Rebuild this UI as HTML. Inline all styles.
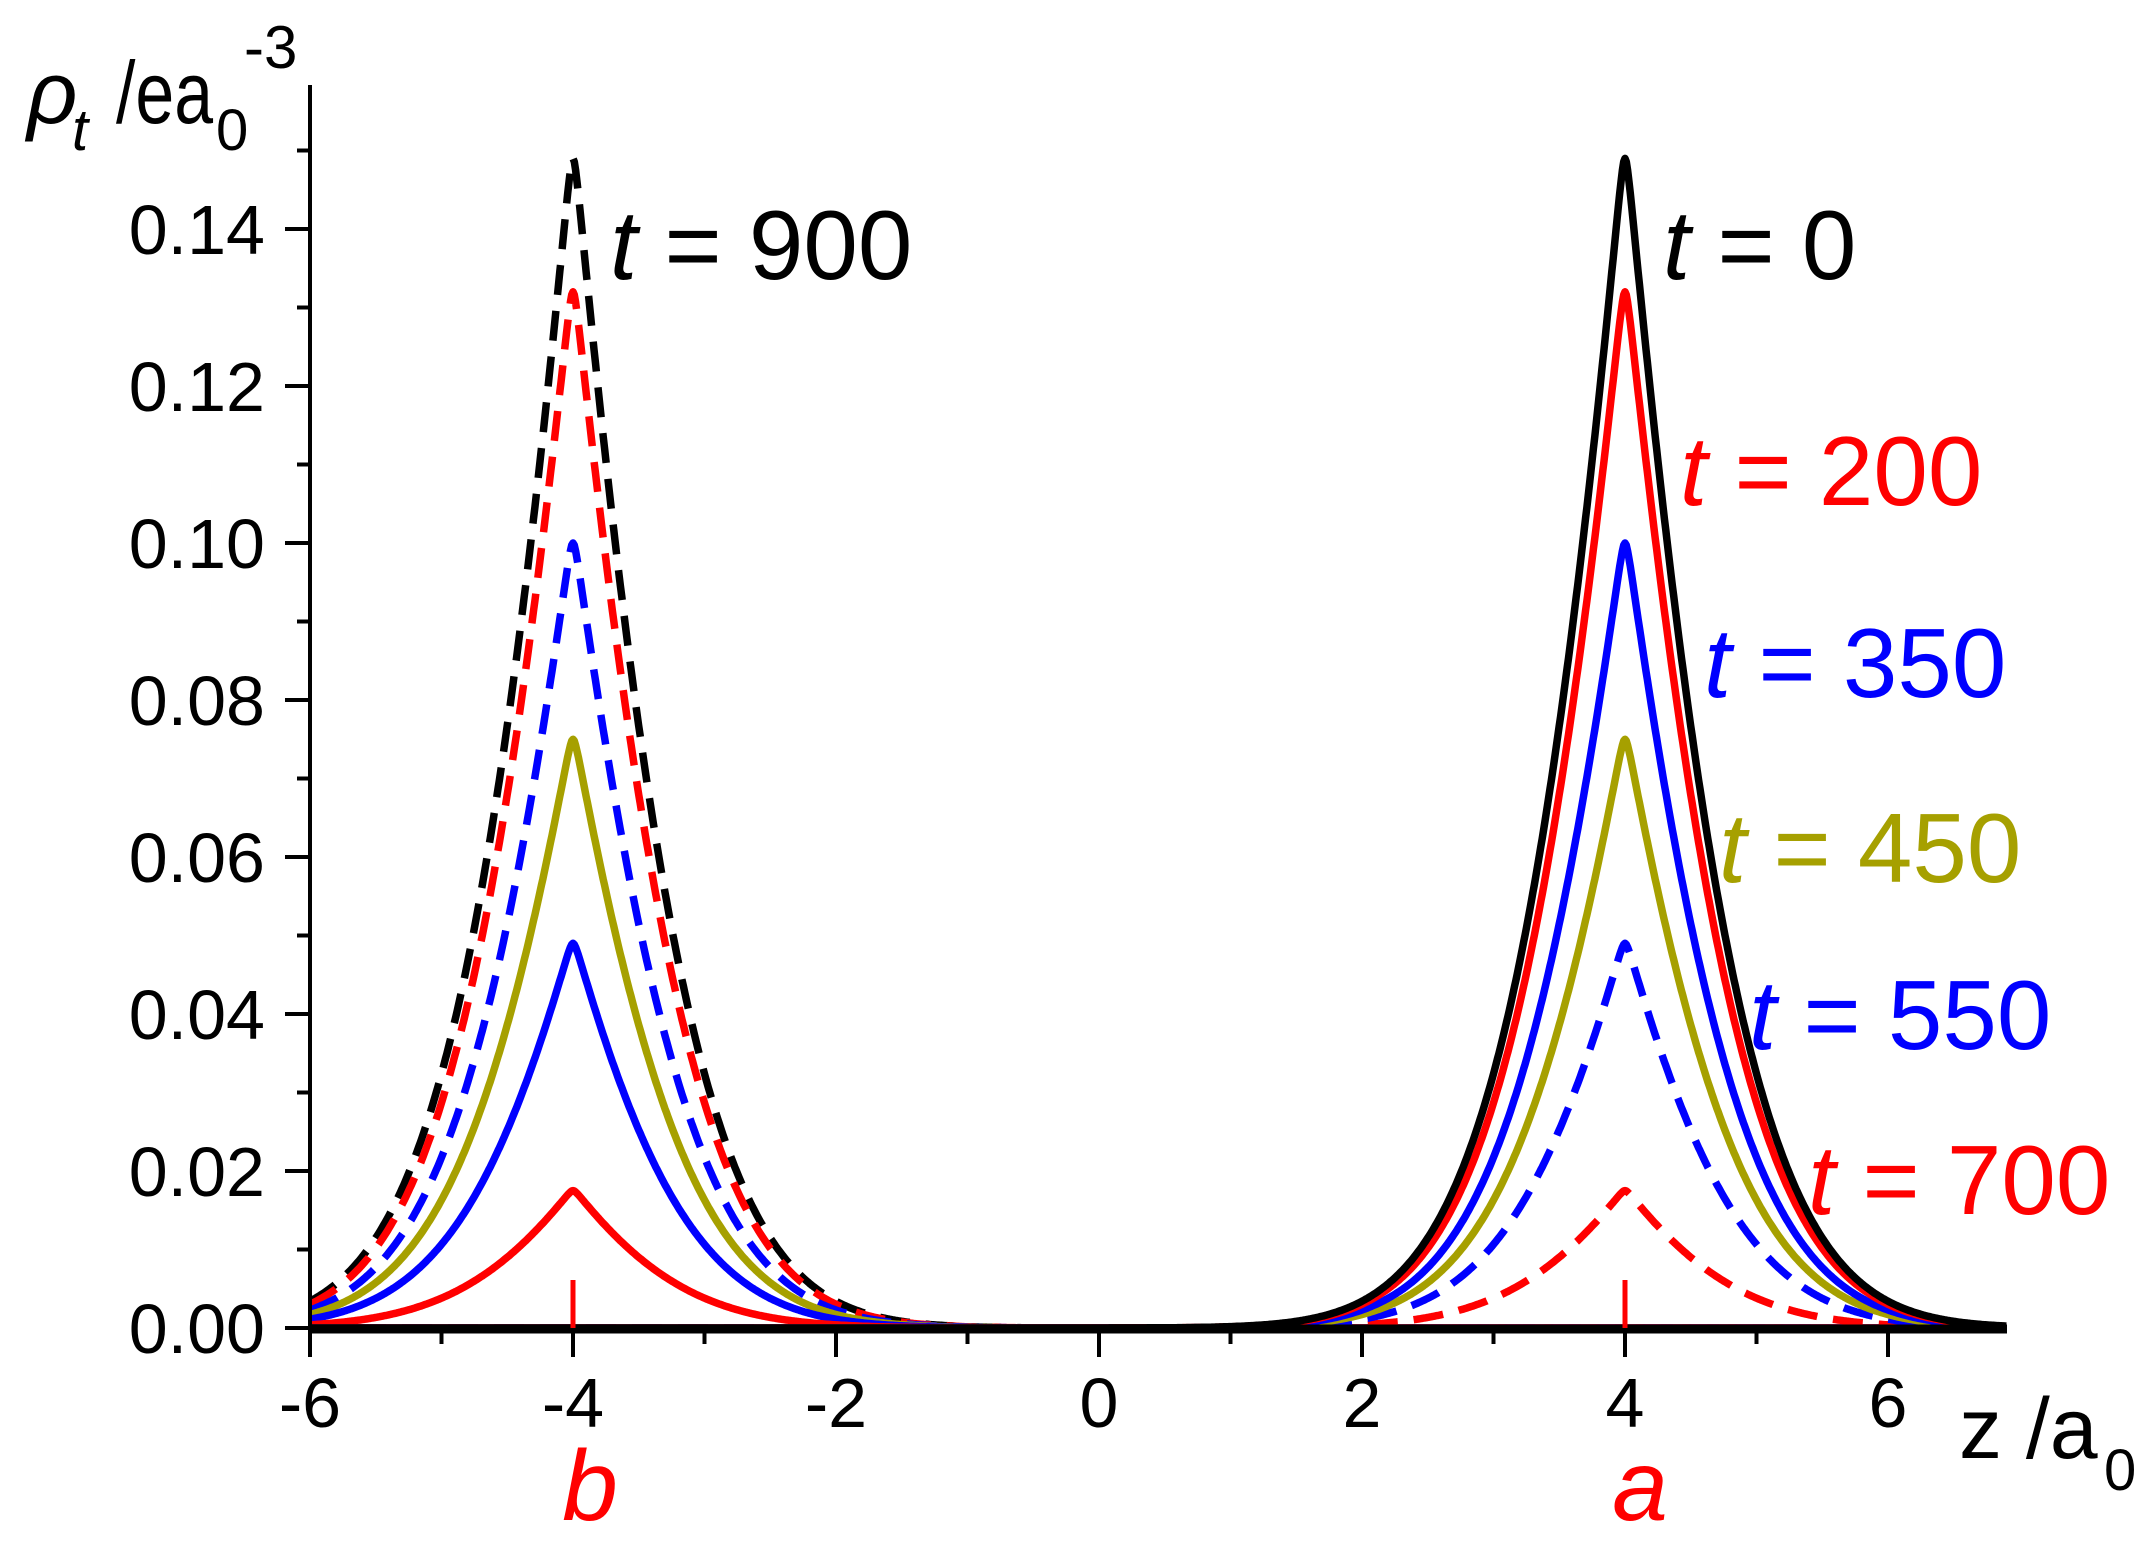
<!DOCTYPE html>
<html><head><meta charset="utf-8"><style>
html,body{margin:0;padding:0;background:#fff;}
svg{display:block;}
text{font-family:"Liberation Sans",Arial,sans-serif;}
</style></head><body>
<svg id="s" width="2151" height="1551" viewBox="0 0 2151 1551" xmlns="http://www.w3.org/2000/svg">
<g id="curves" fill="none" stroke-width="7.5" stroke-linejoin="round"></g>
<line x1="310" y1="1329" x2="2007" y2="1329" stroke="#000" stroke-width="9"/>
<line x1="573" y1="1328" x2="573" y2="1280" stroke="#f00" stroke-width="5"/>
<line x1="1625" y1="1328" x2="1625" y2="1280" stroke="#f00" stroke-width="5"/>
<line x1="310" y1="85" x2="310" y2="1331" stroke="#000" stroke-width="4"/>
<g id="ticks" stroke="#000" stroke-width="4"></g>
<g id="labels" font-size="70" fill="#000"></g>
<g font-size="98">
<text x="610" y="279" fill="#000"><tspan font-style="italic">t</tspan> = 900</text>
<text x="1663" y="279" fill="#000"><tspan font-style="italic">t</tspan> = 0</text>
<text x="1680" y="505" fill="#f00"><tspan font-style="italic">t</tspan> = 200</text>
<text x="1704" y="697" fill="#00f"><tspan font-style="italic">t</tspan> = 350</text>
<text x="1719" y="882" fill="#a6a000"><tspan font-style="italic">t</tspan> = 450</text>
<text x="1749" y="1049" fill="#00f"><tspan font-style="italic">t</tspan> = 550</text>
<text x="1808" y="1214" fill="#f00"><tspan font-style="italic">t</tspan> = 700</text>
</g>
<text x="590" y="1520" font-size="100" font-style="italic" fill="#f00" text-anchor="middle">b</text>
<text x="1640" y="1520" font-size="100" font-style="italic" fill="#f00" text-anchor="middle">a</text>
<text x="1959" y="1458" font-size="86" fill="#000">z /a</text>
<text x="2104" y="1490" font-size="58" fill="#000">0</text>
<text x="27" y="123" font-size="88" font-style="italic" fill="#000">ρ</text>
<text x="72" y="150" font-size="58" font-style="italic" fill="#000">t</text>
<text x="116" y="123" font-size="88" fill="#000" textLength="97" lengthAdjust="spacingAndGlyphs">/ea</text>
<text x="216" y="150" font-size="58" fill="#000">0</text>
<text x="244" y="68" font-size="60" fill="#000">-3</text>
</svg>
<script>
(function(){
var ns="http://www.w3.org/2000/svg";
function X(z){return 310+(z+6)*131.5;}
function Y(v){return 1328-v*7850;}
var s0=0.0004;
function g(d){d=Math.sqrt(d*d+s0);return Math.exp(-(1.2*d+0.35*d*d));}
var n0=g(0);
function f(d){return g(d)/n0;}
var cg=document.getElementById('curves');
function curve(c,A,color,dash){
  var p="";
  for(var z=-6;z<=6.9001;z+=0.01){
    var v=A*f(Math.abs(z-c));
    p+=(p?"L":"M")+X(z).toFixed(1)+","+Y(v).toFixed(1);
  }
  var e=document.createElementNS(ns,'path');
  e.setAttribute('d',p);e.setAttribute('stroke',color);
  if(dash)e.setAttribute('stroke-dasharray','30,16');
  cg.appendChild(e);
}
curve(-4,0.149,'#000',1);
curve(-4,0.132,'#f00',1);
curve(-4,0.100,'#00f',1);
curve(-4,0.075,'#a6a000',0);
curve(-4,0.049,'#00f',0);
curve(-4,0.0175,'#f00',0);
curve(4,0.0175,'#f00',1);
curve(4,0.049,'#00f',1);
curve(4,0.075,'#a6a000',0);
curve(4,0.100,'#00f',0);
curve(4,0.132,'#f00',0);
curve(4,0.149,'#000',0);
var tg=document.getElementById('ticks'),lg=document.getElementById('labels');
function line(x1,y1,x2,y2){var l=document.createElementNS(ns,'line');l.setAttribute('x1',x1);l.setAttribute('y1',y1);l.setAttribute('x2',x2);l.setAttribute('y2',y2);tg.appendChild(l);}
function txt(x,y,s,anc){var t=document.createElementNS(ns,'text');t.setAttribute('x',x);t.setAttribute('y',y);t.setAttribute('text-anchor',anc);t.textContent=s;lg.appendChild(t);}
for(var i=0;i<=15;i++){
  var y=Y(i*0.01);
  if(i%2==0){line(285,y,310,y);txt(265,y+25,(i*0.01).toFixed(2),'end');}
  else line(297,y,310,y);
}
for(var z=-6;z<=6;z++){
  var x=X(z);
  if(z%2==0){line(x,1328,x,1357);txt(x,1427,String(z),'middle');}
  else line(x,1328,x,1344);
}
})();
</script>
</body></html>
